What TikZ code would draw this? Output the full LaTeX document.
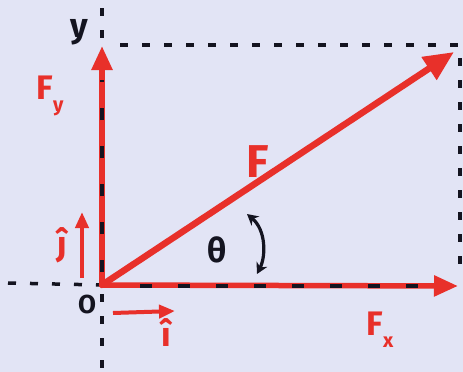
\documentclass[tikz,border=0pt]{standalone}
\usepackage{fontspec}
\setmainfont{Fira Sans}
\usetikzlibrary{arrows.meta}
\definecolor{bg}{RGB}{226,228,245}
\definecolor{pen}{RGB}{232,48,42}
\definecolor{ink}{RGB}{20,20,32}
\begin{document}
\begin{tikzpicture}[x=1pt,y=-1pt,
  redvec/.style={pen,line width=5.5pt,line cap=round,-{Triangle[length=24pt,width=20pt]}},
  bigvec/.style={pen,line width=6.5pt,line cap=round,-{Triangle[length=30pt,width=26pt]}},
  smallvec/.style={pen,line width=4pt,-{Triangle[length=16pt,width=13pt]}},
  dotline/.style={ink,line width=3.5pt,dash pattern=on 8pt off 14pt},
  overdash/.style={ink,line width=3.5pt,dash pattern=on 12pt off 26pt},
  lbl/.style={inner sep=0pt,font=\fontsize{34}{34}\selectfont\bfseries},
  rlbl/.style={lbl,text=pen},
  klbl/.style={lbl,text=ink}]
\fill[bg] (0,0) rectangle (463,372);
\useasboundingbox (0,0) rectangle (463,372);
\coordinate (O) at (102,285);
\coordinate (ytop) at (102,8);
\coordinate (ybot) at (102,372);
\coordinate (xleft) at (8,283);
\coordinate (ytip) at (102,46);
\coordinate (xtip) at (458,286);
\coordinate (Ftip) at (454,52);
\coordinate (tl) at (120,45);
\coordinate (tr) at (458,45);
\coordinate (rt) at (460,58);
\coordinate (rb) at (460,268);
% dotted guide lines
\draw[dotline] (ytop) -- (ybot);
\draw[dotline] (xleft) -- (O);
\draw[dotline] (tl) -- (tr);
\draw[dotline] (rt) -- (rb);
% component vectors
\draw[redvec] (O) -- (ytip);
\draw[redvec] (O) -- (xtip);
\coordinate (ya) at (102,272);
\coordinate (yb) at (102,80);
\draw[overdash] (ya) -- (yb);
\coordinate (xa) at (140,286);
\coordinate (xb) at (430,286);
\draw[overdash] (xa) -- (xb);
% resultant
\draw[bigvec] (O) -- (Ftip);
% unit vectors
\coordinate (ja) at (82,278);
\coordinate (jb) at (82,212);
\draw[smallvec] (ja) -- (jb);
\coordinate (ia) at (113,313);
\coordinate (ib) at (175,311);
\draw[smallvec] (ia) -- (ib);
% angle arrow
\coordinate (ta) at (247,214);
\coordinate (tb) at (257,274);
\draw[ink,line width=3.2pt,{Stealth[length=11pt,width=12pt]}-{Stealth[length=11pt,width=12pt]}] (ta) .. controls (266,230) and (266,256) .. (tb);
% labels
\node[klbl] (ylab) at (79,32) {y};
\node[rlbl] (Fylab) at (50,96) {F\raisebox{-0.35em}{\fontsize{20}{20}\selectfont y}};
\node[rlbl,font=\fontsize{46}{46}\selectfont\bfseries] (Flab) at (258,162) {F};
\node[klbl] (thlab) at (217,250) {θ};
\node[rlbl] (jlab) at (62,245) {ĵ};
\node[klbl,font=\fontsize{26}{26}\selectfont\bfseries] (Olab) at (87,304) {O};
\node[rlbl] (ilab) at (166,333) {î};
\node[rlbl] (Fxlab) at (380,330) {F\raisebox{-0.35em}{\fontsize{20}{20}\selectfont x}};
\end{tikzpicture}
\end{document}
